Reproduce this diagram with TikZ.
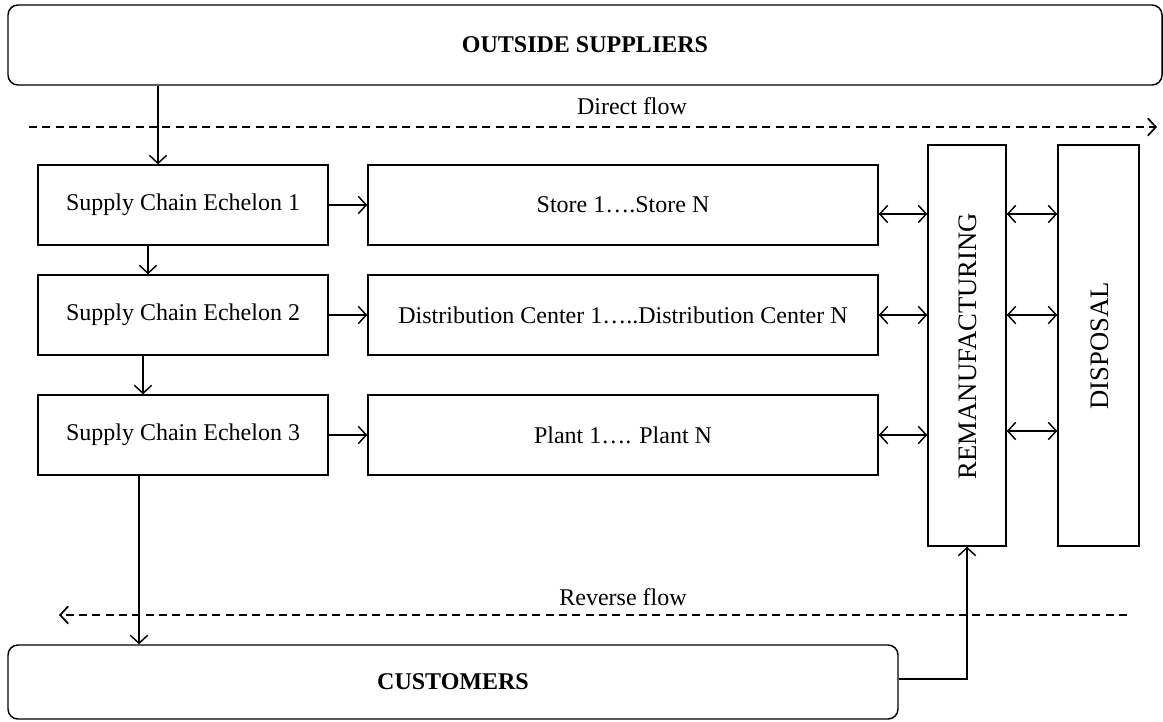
\documentclass[tikz,border=0pt]{standalone}
\usepackage{fontspec}
\setmainfont{Liberation Serif}
\usetikzlibrary{arrows.meta}

\tikzset{every picture/.style={line width=1.1pt}}
\tikzset{
  box/.style={draw, rectangle, inner sep=0pt, font=\fontsize{18}{20}\selectfont},
  endbox/.style={box, rounded corners=7.5pt, font=\fontsize{18}{20}\selectfont\bfseries},
  arr/.style={-{Straight Barb[length=6pt,width=13pt]}},
  dblarr/.style={{Straight Barb[length=6pt,width=13pt]}-{Straight Barb[length=6pt,width=13pt]}},
  flow/.style={arr, dash pattern={on 6pt off 4pt}, line width=1.3pt},
  lbl/.style={inner sep=0.75pt, font=\fontsize{18}{20}\selectfont}
}

\begin{document}
\begin{tikzpicture}[x=0.75pt,y=0.75pt,yscale=-1,xscale=1]
\useasboundingbox (0,0) rectangle (1163,721);

%Shape: Rounded Rect [id:outside]
\node[endbox, minimum width=865.5pt, minimum height=60pt] (sup) at (585,45) {OUTSIDE SUPPLIERS};
%Shape: Rounded Rect [id:customers]
\node[endbox, minimum width=667.5pt, minimum height=55.5pt] (cust) at (453,682) {CUSTOMERS};

%Shape: Rectangle echelons
\node[box, minimum width=217.5pt, minimum height=60pt] (ech1) at (183,205) {Supply Chain Echelon 1};
\node[box, minimum width=217.5pt, minimum height=60pt] (ech2) at (183,315) {Supply Chain Echelon 2};
\node[box, minimum width=217.5pt, minimum height=60pt] (ech3) at (183,435) {Supply Chain Echelon 3};

%Shape: Rectangle facilities
\node[box, minimum width=382.5pt, minimum height=60pt] (store) at (623,205) {Store 1….Store N};
\node[box, minimum width=382.5pt, minimum height=60pt] (dc) at (623,315) {Distribution Center 1…..Distribution Center N};
\node[box, minimum width=382.5pt, minimum height=60pt] (plant) at (623,435) {Plant 1…. Plant N};

%Shape: Rectangle vertical
\node[box, minimum width=58.5pt, minimum height=300.75pt] (reman) at (967,345.5) {};
\node[box, minimum width=60.75pt, minimum height=300.75pt] (disp) at (1098.5,345.5) {};
% Text Node
\node[lbl, rotate=90, font=\fontsize{20}{22}\selectfont] (remantxt) at (968,346) {REMANUFACTURING};
% Text Node
\node[lbl, rotate=90, font=\fontsize{20}{22}\selectfont] (disptxt) at (1100,346) {DISPOSAL};

%Straight Lines flows
\coordinate (df1) at (29,127);
\coordinate (df2) at (1157,127);
\coordinate (rf1) at (1127,615);
\coordinate (rf2) at (59,615);
\draw[flow] (df1) -- (df2);
\draw[flow] (rf1) -- (rf2);
% Text Node
\node[lbl] (dflbl) at (632,106) {Direct flow};
% Text Node
\node[lbl] (rflbl) at (623,597) {Reverse flow};

%Straight Lines down the chain
\draw[arr] ([xshift=-18.75pt]ech1.north |- sup.south) -- ([xshift=-18.75pt]ech1.north);
\draw[arr] ([xshift=-26.25pt]ech1.south) -- ([xshift=-26.25pt]ech2.north);
\draw[arr] ([xshift=-30pt]ech2.south) -- ([xshift=-30pt]ech3.north);
\draw[arr] ([xshift=-33pt]ech3.south) -- ([xshift=-33pt]ech3.south |- cust.north);

%Straight Lines across
\draw[arr] (ech1.east) -- (store.west);
\draw[arr] (ech2.east) -- (dc.west);
\draw[arr] (ech3.east) -- (plant.west);

%Straight Lines to remanufacturing
\draw[dblarr] ([yshift=6.75pt]store.east) -- ([yshift=6.75pt]store.east -| reman.west);
\draw[dblarr] (dc.east) -- (dc.east -| reman.west);
\draw[dblarr] (plant.east) -- (plant.east -| reman.west);

%Straight Lines to disposal
\draw[dblarr] ([yshift=6.75pt]store.east -| reman.east) -- ([yshift=6.75pt]store.east -| disp.west);
\draw[dblarr] (dc.east -| reman.east) -- (dc.east -| disp.west);
\draw[dblarr] ([yshift=-3pt]plant.east -| reman.east) -- ([yshift=-3pt]plant.east -| disp.west);

%Straight Lines customers back
\draw[arr] ([yshift=-2.25pt]cust.east) -| (reman.south);

\end{tikzpicture}
\end{document}
